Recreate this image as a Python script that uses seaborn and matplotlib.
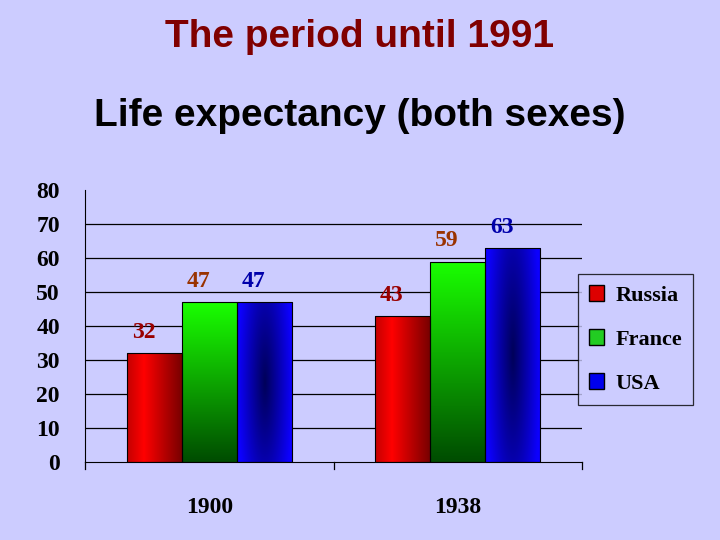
import numpy as np
import pandas as pd
import matplotlib
matplotlib.use("Agg")
import matplotlib.pyplot as plt
import seaborn as sns
from matplotlib.patches import Patch

years = ["1900", "1938"]
countries = ["Russia", "France", "USA"]
russia = [32, 43]
france = [47, 59]
usa = [47, 63]
label_colors = {"Russia": "#990000", "France": "#993300", "USA": "#0000aa"}

rows = []
for i, y in enumerate(years):
    for c, vals in zip(countries, [russia, france, usa]):
        rows.append({"year": y, "country": c, "value": vals[i]})
df = pd.DataFrame(rows)

BG = "#ccccff"
fig = plt.figure(figsize=(7.2, 5.4), dpi=100, facecolor=BG)
ax = fig.add_axes([0.118, 0.144, 0.69, 0.504])
ax.set_facecolor(BG)
sns.barplot(data=df, x="year", y="value", hue="country", hue_order=countries,
            width=0.666, ax=ax, legend=False, edgecolor="black", linewidth=0.8)

def grad(country):
    n = 64
    xs = np.linspace(-1, 1, n)
    X, Y = np.meshgrid(xs, xs)
    img = np.zeros((n, n, 3))
    if country == "Russia":
        t = np.clip(1 - np.abs(X + 0.4) * 0.7, 0, 1)
        img[..., 0] = 0.45 + 0.55 * t
    elif country == "France":
        t = (Y + 1) / 2
        img[..., 1] = 0.3 + 0.7 * t
        img[..., 0] = 0.1 * t
    else:
        r = np.clip(np.sqrt((X * 1.0) ** 2 + (Y * 0.5) ** 2), 0, 1)
        img[..., 2] = 0.35 + 0.65 * r
        img[..., 0] = 0.05 * r
    return img

for hi, c in enumerate(countries):
    cont = ax.containers[hi]
    for bar in cont:
        x0, w, h = bar.get_x(), bar.get_width(), bar.get_height()
        im = ax.imshow(grad(c), extent=[x0, x0 + w, 0, h], origin="lower",
                       aspect="auto", zorder=2)
        im.set_clip_path(bar)
        bar.set_facecolor("none")
        bar.set_zorder(3)
        ax.text(x0 + w * 0.3, h + 3, f"{int(h)}", ha="center", va="bottom",
                color=label_colors[c], fontsize=17, fontweight="bold",
                family="Liberation Serif")

ax.set_xlim(-0.504, 1.5)
ax.set_ylim(0, 80)
ax.set_yticks(range(0, 81, 10))
for v in range(10, 80, 10):
    ax.axhline(v, color="black", lw=0.9, zorder=1)
ax.set_xlabel("")
ax.set_ylabel("")
for s in ["top", "right"]:
    ax.spines[s].set_visible(False)
ax.tick_params(axis="y", labelsize=17, length=0, pad=18)
ax.tick_params(axis="x", labelsize=17, length=0, pad=25)
for lab in ax.get_xticklabels() + ax.get_yticklabels():
    lab.set_family("Liberation Serif")
    lab.set_fontweight("bold")
for xv in [-0.504, 0.5, 1.5]:
    ax.plot([xv, xv], [0, -2], color="black", lw=0.9, clip_on=False)

fig.text(0.5, 0.932, "The period until 1991", ha="center", va="center",
         color="#800000", fontsize=28, fontweight="bold", family="Liberation Sans")
fig.text(0.5, 0.785, "Life expectancy (both sexes)", ha="center", va="center",
         color="black", fontsize=28, fontweight="bold", family="Liberation Sans")

handles = [Patch(facecolor=col, edgecolor="black") for col in ["#dd0000", "#22cc22", "#0000ee"]]
leg = fig.legend(handles, countries, loc="upper left", bbox_to_anchor=(0.787, 0.513),
                 frameon=True, facecolor=BG, edgecolor="black", fancybox=False,
                 prop={"family": "Liberation Serif", "weight": "bold", "size": 16},
                 labelspacing=1.05, handlelength=0.7, handleheight=0.7,
                 handletextpad=0.5, borderpad=0.5)
leg.get_frame().set_linewidth(0.9)

fig.savefig("out.png", dpi=100, facecolor=BG)
